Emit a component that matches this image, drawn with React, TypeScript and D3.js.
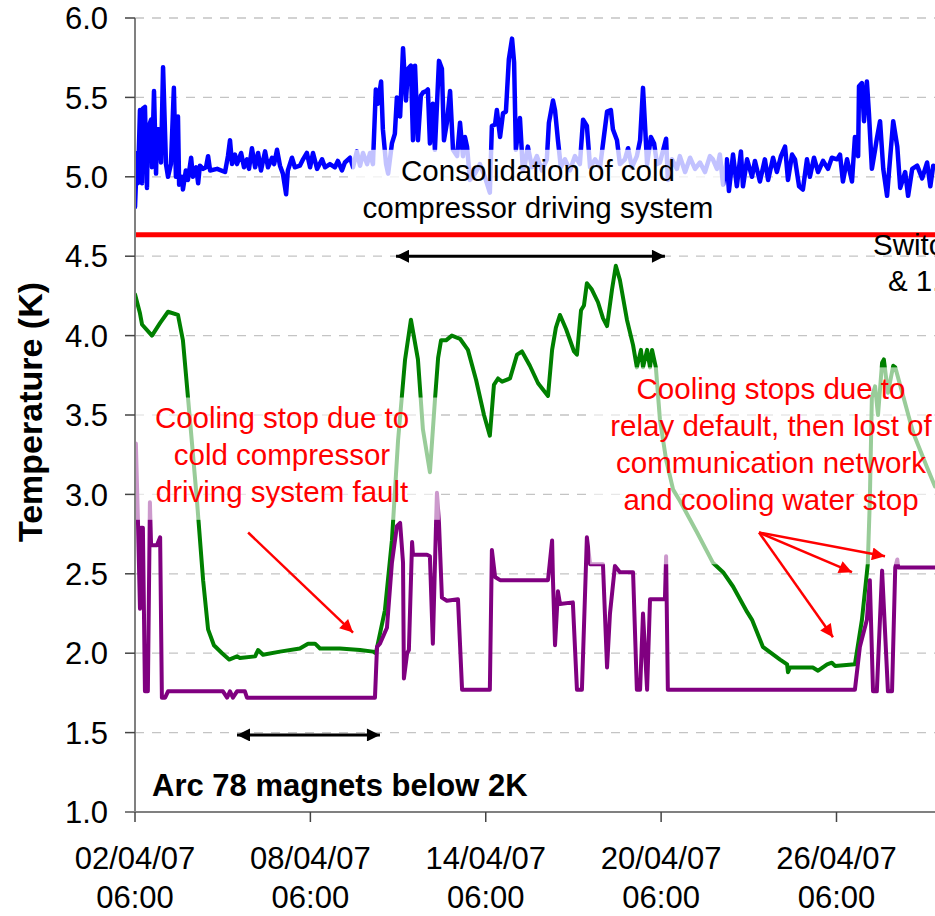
import React, { useEffect, useRef } from "react";
import * as d3 from "d3";

// day offset from 02/04/07 06:00, temperature in K
const blueSeries: [number, number][] = [
  [0.0, 4.81], [0.07, 5.15], [0.1, 4.96], [0.17, 5.42], [0.24, 4.96], [0.27, 5.43], [0.34, 5.44],
  [0.41, 4.93], [0.44, 5.3], [0.55, 5.36], [0.58, 5.06], [0.65, 5.54], [0.72, 5.02], [0.75, 5.3],
  [0.82, 5.3], [0.89, 5.09], [0.96, 5.69], [1.06, 5.08], [1.13, 5.0], [1.23, 5.08], [1.33, 5.56],
  [1.4, 5.0], [1.47, 5.38], [1.51, 4.95], [1.61, 5.0], [1.64, 4.92], [1.74, 5.04], [1.81, 4.98],
  [1.92, 5.12], [1.98, 5.0], [2.09, 5.06], [2.16, 4.96], [2.22, 5.07], [2.33, 5.05], [2.43, 5.06],
  [2.5, 5.13], [2.57, 5.04], [2.81, 5.05], [3.08, 5.03], [3.18, 5.13], [3.25, 5.23], [3.32, 5.08],
  [3.42, 5.14], [3.49, 5.08], [3.63, 5.15], [3.73, 5.06], [3.83, 5.11], [3.9, 5.05], [4.0, 5.18],
  [4.11, 5.06], [4.21, 5.15], [4.31, 5.04], [4.45, 5.16], [4.55, 5.06], [4.69, 5.12], [4.76, 5.08],
  [4.86, 5.17], [4.96, 5.07], [5.06, 5.02], [5.17, 4.89], [5.23, 5.04], [5.37, 5.12], [5.47, 5.06],
  [5.64, 5.07], [5.75, 5.11], [5.88, 5.15], [5.99, 5.06], [6.09, 5.15], [6.23, 5.05], [6.4, 5.11],
  [6.5, 5.06], [6.67, 5.08], [6.84, 5.06], [6.94, 5.1], [7.08, 5.04], [7.18, 5.09], [7.36, 5.12],
  [7.46, 5.06], [7.59, 5.16], [7.7, 5.07], [7.8, 5.15], [7.94, 5.08], [8.04, 5.15], [8.14, 5.08],
  [8.24, 5.55], [8.31, 5.46], [8.42, 5.6], [8.48, 5.3], [8.59, 5.08], [8.66, 5.02], [8.79, 5.21],
  [8.89, 5.27], [8.96, 5.5], [9.07, 5.38], [9.17, 5.81], [9.27, 5.48], [9.34, 5.68], [9.44, 5.7],
  [9.51, 5.23], [9.58, 5.7], [9.68, 5.23], [9.78, 5.51], [9.85, 5.53], [9.96, 5.54], [10.02, 5.55],
  [10.09, 5.21], [10.19, 5.46], [10.26, 5.17], [10.4, 5.73], [10.5, 5.68], [10.57, 5.23], [10.67, 5.34],
  [10.78, 5.54], [10.88, 5.17], [11.02, 5.13], [11.12, 5.34], [11.22, 5.13], [11.29, 5.25], [11.36, 5.19],
  [11.46, 4.98], [11.63, 5.02], [11.8, 5.08], [11.97, 5.0], [12.14, 4.9], [12.21, 5.32], [12.32, 5.33],
  [12.38, 5.42], [12.49, 5.25], [12.59, 5.4], [12.69, 5.41], [12.79, 5.74], [12.9, 5.87], [12.97, 5.72],
  [13.03, 5.17], [13.17, 5.37], [13.27, 5.04], [13.34, 5.08], [13.44, 5.19], [13.58, 5.06], [13.75, 5.13],
  [13.92, 5.04], [14.09, 5.11], [14.16, 5.34], [14.3, 5.48], [14.37, 5.42], [14.47, 5.23], [14.57, 5.06],
  [14.71, 5.11], [14.88, 5.04], [15.05, 5.13], [15.22, 5.08], [15.33, 5.36], [15.46, 5.32], [15.57, 5.06],
  [15.74, 5.11], [15.91, 5.06], [16.04, 5.25], [16.15, 5.41], [16.28, 5.42], [16.35, 5.3], [16.49, 5.23],
  [16.59, 5.08], [16.76, 5.11], [16.87, 5.18], [17.0, 5.06], [17.17, 5.13], [17.28, 5.23], [17.38, 5.56],
  [17.45, 5.32], [17.52, 5.08], [17.65, 5.25], [17.76, 5.21], [17.86, 5.08], [17.96, 5.09], [18.17, 5.24],
  [18.23, 4.98], [18.37, 5.11], [18.54, 5.05], [18.64, 5.13], [18.82, 5.03], [18.99, 5.12], [19.16, 5.05],
  [19.33, 5.09], [19.5, 5.03], [19.67, 5.13], [19.77, 5.11], [19.91, 5.05], [20.01, 5.14], [20.12, 4.95],
  [20.25, 5.11], [20.32, 4.91], [20.46, 5.14], [20.59, 4.94], [20.73, 5.16], [20.8, 4.94], [20.94, 5.11],
  [21.11, 5.0], [21.21, 5.1], [21.38, 4.97], [21.55, 5.11], [21.66, 4.98], [21.83, 5.12], [21.96, 5.03],
  [22.1, 5.13], [22.24, 5.19], [22.34, 4.98], [22.48, 5.14], [22.58, 5.11], [22.72, 4.94], [22.85, 4.92],
  [22.99, 5.11], [23.09, 5.0], [23.23, 5.12], [23.37, 5.03], [23.54, 5.1], [23.71, 5.05], [23.84, 5.12],
  [24.02, 5.11], [24.12, 5.14], [24.22, 4.97], [24.36, 5.11], [24.53, 4.97], [24.63, 5.25], [24.74, 5.13],
  [24.77, 5.57], [24.87, 5.59], [24.94, 5.35], [25.04, 5.6], [25.11, 5.4], [25.21, 5.05], [25.32, 5.17],
  [25.38, 5.24], [25.49, 5.35], [25.6, 5.05], [25.73, 4.88], [25.84, 5.13], [25.94, 5.35], [26.08, 5.19],
  [26.18, 4.93], [26.35, 5.03], [26.45, 4.88], [26.59, 5.05], [26.76, 5.07], [26.93, 4.99], [27.1, 5.09],
  [27.21, 4.94], [27.31, 5.07],
];

const redSeries: [number, number][] = [[0, 4.635], [27.4, 4.635]];

const greenSeries: [number, number][] = [
  [0.0, 4.26], [0.17, 4.14], [0.24, 4.07], [0.58, 4.0], [0.86, 4.08], [1.13, 4.15], [1.47, 4.13],
  [1.64, 3.97], [1.88, 3.47], [2.12, 2.96], [2.33, 2.46], [2.5, 2.15], [2.7, 2.05], [2.98, 2.0],
  [3.22, 1.96], [3.49, 1.98], [3.59, 1.97], [4.11, 1.98], [4.21, 2.02], [4.38, 1.99], [4.96, 2.01],
  [5.64, 2.03], [5.92, 2.06], [6.16, 2.06], [6.33, 2.03], [7.01, 2.03], [7.7, 2.02], [8.14, 2.01],
  [8.24, 2.0], [8.55, 2.27], [8.79, 2.71], [9.0, 3.34], [9.24, 3.85], [9.44, 4.1], [9.68, 3.85],
  [9.85, 3.41], [10.09, 3.14], [10.26, 3.59], [10.37, 3.86], [10.47, 3.97], [10.64, 3.97], [10.84, 4.0],
  [11.12, 3.98], [11.39, 3.91], [11.67, 3.72], [11.94, 3.5], [12.14, 3.37], [12.28, 3.69], [12.42, 3.73],
  [12.56, 3.71], [12.83, 3.73], [13.07, 3.88], [13.24, 3.9], [13.51, 3.81], [13.79, 3.7], [14.13, 3.62],
  [14.27, 3.91], [14.4, 4.05], [14.54, 4.13], [14.75, 4.04], [15.02, 3.9], [15.12, 3.88], [15.26, 4.16],
  [15.36, 4.19], [15.46, 4.33], [15.63, 4.29], [15.84, 4.21], [16.01, 4.11], [16.15, 4.06], [16.32, 4.29],
  [16.45, 4.44], [16.59, 4.35], [16.83, 4.1], [17.04, 3.94], [17.17, 3.8], [17.31, 3.91], [17.38, 3.8],
  [17.52, 3.91], [17.62, 3.8], [17.69, 3.91], [17.82, 3.8], [17.96, 3.47], [18.17, 3.22], [18.41, 3.03],
  [18.64, 2.96], [19.23, 2.76], [19.77, 2.57], [20.12, 2.51], [20.46, 2.42], [20.94, 2.26], [21.11, 2.21],
  [21.48, 2.04], [22.07, 1.96], [22.31, 1.93], [22.34, 1.88], [22.41, 1.91], [23.19, 1.91], [23.37, 1.89],
  [23.68, 1.93], [23.84, 1.94], [23.95, 1.92], [24.63, 1.93], [24.87, 2.21], [25.07, 2.56], [25.14, 2.96],
  [25.21, 3.61], [25.32, 3.68], [25.42, 3.5], [25.56, 3.83], [25.62, 3.85], [25.76, 3.64], [25.94, 3.81],
  [26.01, 3.8], [26.25, 3.64], [26.62, 3.39], [27.1, 3.17], [27.37, 3.05],
];

const purpleSeries: [number, number][] = [
  [0.03, 3.32], [0.1, 2.84], [0.17, 2.28], [0.2, 2.79], [0.27, 2.79], [0.34, 1.76], [0.44, 1.76],
  [0.51, 2.95], [0.55, 2.68], [0.75, 2.68], [0.86, 2.73], [0.92, 1.72], [1.03, 1.72], [1.13, 1.76],
  [3.01, 1.76], [3.15, 1.72], [3.25, 1.76], [3.35, 1.72], [3.49, 1.76], [3.76, 1.76], [3.83, 1.72],
  [8.21, 1.72], [8.28, 2.04], [8.38, 2.06], [8.62, 2.16], [8.79, 2.57], [8.96, 2.8], [9.07, 2.82],
  [9.17, 2.57], [9.2, 1.84], [9.31, 2.0], [9.37, 2.02], [9.48, 2.7], [9.51, 2.62], [9.99, 2.62],
  [10.09, 2.61], [10.19, 2.06], [10.3, 2.82], [10.33, 3.01], [10.4, 2.82], [10.5, 2.35], [10.67, 2.33],
  [11.05, 2.34], [11.19, 1.77], [12.14, 1.77], [12.21, 2.65], [12.32, 2.48], [12.49, 2.46], [14.13, 2.46],
  [14.27, 2.71], [14.3, 2.46], [14.37, 2.05], [14.47, 2.39], [14.54, 2.31], [14.98, 2.32], [15.12, 1.77],
  [15.29, 1.77], [15.46, 2.73], [15.57, 2.56], [16.01, 2.56], [16.15, 1.91], [16.25, 2.25], [16.42, 2.55],
  [16.59, 2.51], [17.04, 2.51], [17.17, 1.77], [17.28, 1.77], [17.38, 2.25], [17.52, 1.77], [17.62, 2.34],
  [18.13, 2.34], [18.17, 2.61], [18.23, 1.77], [24.63, 1.77], [24.8, 2.04], [25.04, 2.21], [25.14, 2.46],
  [25.25, 1.76], [25.38, 1.76], [25.56, 2.52], [25.76, 1.76], [25.9, 1.76], [26.01, 2.54], [26.08, 2.59],
  [26.11, 2.54], [27.37, 2.54],
];

const yTicks = [1.0, 1.5, 2.0, 2.5, 3.0, 3.5, 4.0, 4.5, 5.0, 5.5, 6.0];
const xTickDays = [0, 6, 12, 18, 24];
const startDate = new Date(2007, 3, 2, 6, 0);
const endDay = 27.37;

const font = "'Liberation Sans', Arial, sans-serif";

const App = () => {
  const svgRef = useRef<SVGSVGElement>(null);

  useEffect(() => {
    const width = 935;
    const height = 916;
    const margin = { top: 18, right: 0, bottom: 104, left: 135 };

    const svg = d3.select(svgRef.current);
    svg.selectAll("*").remove();
    svg.attr("width", width).attr("height", height);

    const toDate = (d: number) => new Date(startDate.getTime() + d * 86400000);

    const x = d3
      .scaleTime()
      .domain([startDate, toDate(endDay)])
      .range([margin.left, width - margin.right]);
    const y = d3
      .scaleLinear()
      .domain([1, 6])
      .range([height - margin.bottom, margin.top]);
    const xd = (d: number) => x(toDate(d));

    const defs = svg.append("defs");
    const addMarker = (id: string, color: string, orient: string) =>
      defs
        .append("marker")
        .attr("id", id)
        .attr("viewBox", "0 0 10 10")
        .attr("refX", 10)
        .attr("refY", 5)
        .attr("markerWidth", 15)
        .attr("markerHeight", 13)
        .attr("markerUnits", "userSpaceOnUse")
        .attr("orient", orient)
        .append("path")
        .attr("d", "M0,0 L10,5 L0,10 Z")
        .attr("fill", color);
    addMarker("blackEnd", "#000", "auto");
    addMarker("blackStart", "#000", "auto-start-reverse");
    addMarker("redEnd", "#ff0000", "auto");

    defs
      .append("clipPath")
      .attr("id", "plotClip")
      .append("rect")
      .attr("x", margin.left)
      .attr("y", 0)
      .attr("width", width - margin.left)
      .attr("height", height - margin.bottom);

    // dashed gridlines
    svg
      .append("g")
      .selectAll("line")
      .data(yTicks.filter((t) => t > 1))
      .enter()
      .append("line")
      .attr("x1", margin.left)
      .attr("x2", width)
      .attr("y1", (d) => y(d))
      .attr("y2", (d) => y(d))
      .attr("stroke", "#c4c4c4")
      .attr("stroke-width", 1.3)
      .attr("stroke-dasharray", "9,8");

    // series
    const line = d3
      .line<[number, number]>()
      .x((d) => xd(d[0]))
      .y((d) => y(d[1]));

    const plot = svg.append("g").attr("clip-path", "url(#plotClip)");
    const series: [[number, number][], string, number][] = [
      [blueSeries, "#0000ff", 4.5],
      [redSeries, "#ff0000", 5],
      [greenSeries, "#008000", 4],
      [purpleSeries, "#800080", 4],
    ];
    series.forEach(([data, color, w]) => {
      plot
        .append("path")
        .datum(data)
        .attr("d", line)
        .attr("fill", "none")
        .attr("stroke", color)
        .attr("stroke-width", w)
        .attr("stroke-linejoin", "round")
        .attr("stroke-linecap", "round");
    });

    // semi-transparent text boxes
    const boxes: [number, number, number, number, number][] = [
      [7.42, 20.18, 5.17, 4.7, 0.76],
      [0, 10.43, 3.61, 2.84, 0.6],
      [15.57, 27.4, 3.8, 2.56, 0.6],
    ];
    plot
      .selectAll(".box")
      .data(boxes)
      .enter()
      .append("rect")
      .attr("x", (d) => xd(d[0]))
      .attr("width", (d) => xd(d[1]) - xd(d[0]))
      .attr("y", (d) => y(d[2]))
      .attr("height", (d) => y(d[3]) - y(d[2]))
      .attr("fill", "#fff")
      .attr("fill-opacity", (d) => d[4]);

    // axes
    const axisColor = "#808080";
    const yAxis = svg.append("g");
    yAxis
      .append("line")
      .attr("x1", margin.left)
      .attr("x2", margin.left)
      .attr("y1", y(6))
      .attr("y2", y(1))
      .attr("stroke", axisColor)
      .attr("stroke-width", 2);
    yAxis
      .selectAll(".tick")
      .data(yTicks)
      .enter()
      .append("line")
      .attr("x1", margin.left - 10)
      .attr("x2", margin.left)
      .attr("y1", (d) => y(d))
      .attr("y2", (d) => y(d))
      .attr("stroke", "#444")
      .attr("stroke-width", 1.5);
    yAxis
      .selectAll(".label")
      .data(yTicks)
      .enter()
      .append("text")
      .attr("x", 108)
      .attr("y", (d) => y(d))
      .attr("dy", "0.36em")
      .attr("text-anchor", "end")
      .attr("font-family", font)
      .attr("font-size", 31)
      .text((d) => d3.format(".1f")(d));

    const xAxis = svg.append("g");
    xAxis
      .append("line")
      .attr("x1", margin.left - 10)
      .attr("x2", width)
      .attr("y1", y(1))
      .attr("y2", y(1))
      .attr("stroke", axisColor)
      .attr("stroke-width", 2);
    xAxis
      .selectAll(".tick")
      .data(xTickDays)
      .enter()
      .append("line")
      .attr("x1", (d) => xd(d))
      .attr("x2", (d) => xd(d))
      .attr("y1", y(1))
      .attr("y2", y(1) + 10)
      .attr("stroke", "#444")
      .attr("stroke-width", 1.5);
    const fmtDate = d3.timeFormat("%d/%m/%y");
    const fmtTime = d3.timeFormat("%H:%M");
    const xl = xAxis
      .selectAll(".label")
      .data(xTickDays)
      .enter()
      .append("text")
      .attr("text-anchor", "middle")
      .attr("font-family", font)
      .attr("font-size", 31);
    xl.append("tspan")
      .attr("x", (d) => xd(d))
      .attr("y", 869)
      .text((d) => fmtDate(toDate(d)));
    xl.append("tspan")
      .attr("x", (d) => xd(d))
      .attr("y", 908)
      .text((d) => fmtTime(toDate(d)));

    svg
      .append("text")
      .attr("transform", `translate(42, 412) rotate(-90)`)
      .attr("text-anchor", "middle")
      .attr("font-family", font)
      .attr("font-size", 34)
      .attr("font-weight", "bold")
      .text("Temperature (K)");

    // annotations
    const addText = (lines: string[], cx: number, y0: number, gap: number, color: string, anchor = "middle", weight = "normal", size = 29.5) => {
      const t = svg
        .append("text")
        .attr("text-anchor", anchor)
        .attr("font-family", font)
        .attr("font-size", size)
        .attr("font-weight", weight)
        .attr("fill", color);
      lines.forEach((s, i) =>
        t.append("tspan").attr("x", cx).attr("y", y0 + i * gap).text(s)
      );
    };
    addText(["Consolidation of cold", "compressor driving system"], 538, 181, 37, "#000");
    addText(["Cooling stop due to", "cold compressor", "driving system fault"], 282, 428, 37, "#ff0000");
    addText(
      ["Cooling stops due to", "relay default, then lost of", "communication network", "and cooling water stop"],
      771, 399, 37, "#ff0000"
    );
    addText(["Switch to"], 873, 255, 0, "#000", "start");
    addText(["& 1.9 K"], 888, 291, 0, "#000", "start");
    addText(["Arc 78 magnets below 2K"], 152, 796, 0, "#000", "start", "bold", 31);

    const arrows: [number, number, number, number, string, boolean][] = [
      [8.93, 4.5, 18.13, 4.5, "#000", true],
      [3.49, 1.485, 8.38, 1.485, "#000", true],
      [3.87, 2.76, 7.46, 2.13, "#ff0000", false],
      [21.35, 2.76, 23.88, 2.1, "#ff0000", false],
      [21.35, 2.76, 24.53, 2.51, "#ff0000", false],
      [21.35, 2.76, 25.66, 2.61, "#ff0000", false],
    ];
    arrows.forEach(([d0, v0, d1, v1, color, both]) => {
      const a = svg
        .append("line")
        .attr("x1", xd(d0))
        .attr("y1", y(v0))
        .attr("x2", xd(d1))
        .attr("y2", y(v1))
        .attr("stroke", color)
        .attr("stroke-width", both ? 3 : 2.5)
        .attr("marker-end", both ? "url(#blackEnd)" : "url(#redEnd)");
      if (both) a.attr("marker-start", "url(#blackStart)");
    });
  }, []);

  return (
    <svg
      ref={svgRef}
      style={{ position: "absolute", left: 0, top: 0, background: "#fff" }}
    ></svg>
  );
};

export default App;
